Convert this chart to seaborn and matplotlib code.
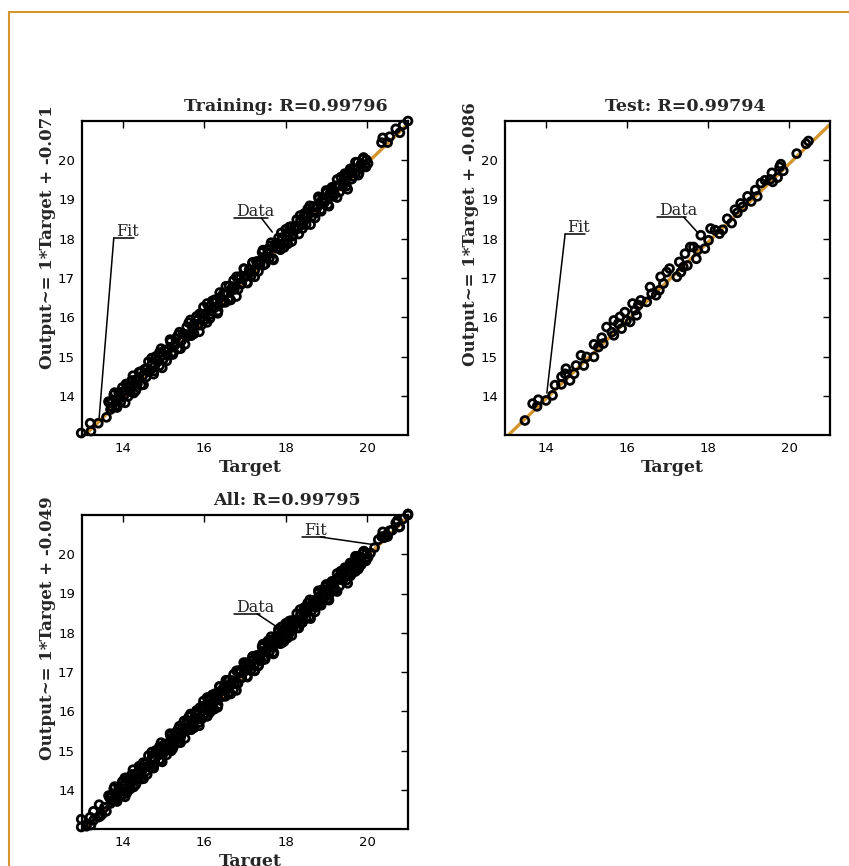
import numpy as np
import pandas as pd
import matplotlib
matplotlib.use("Agg")
import matplotlib.pyplot as plt
from matplotlib.lines import Line2D
import seaborn as sns

# ---------------- data ----------------
train_target = [12.98, 13.20, 13.22, 13.40, 13.60,
    13.65, 13.70, 13.74, 13.78, 13.82, 13.86, 13.90, 13.95, 14.00, 14.04,
    14.08, 14.13, 14.18, 14.22, 14.27, 14.31, 14.36, 14.40, 14.45, 14.49,
    14.54, 14.58, 14.63, 14.67, 14.72, 14.76, 14.81, 14.85, 14.90, 14.94,
    14.99, 15.03, 15.08, 15.12, 15.17, 15.21, 15.26, 15.30, 15.35, 15.39,
    15.44, 15.48, 15.53, 15.57, 15.62, 15.66, 15.71, 15.75, 15.80, 15.84,
    15.89, 15.93, 15.98, 16.02, 16.07, 16.11, 16.16, 16.20, 16.25, 16.29,
    16.34, 16.38, 16.43, 16.47, 16.52, 16.56, 16.61, 16.65, 16.70, 16.74,
    16.79, 16.83, 16.88, 16.92, 16.97, 17.01, 17.06, 17.10, 17.15, 17.19,
    17.24, 17.28, 17.33, 17.37, 17.42, 17.46, 17.51, 17.55, 17.60, 17.64,
    17.69, 17.73, 17.78, 17.82, 17.87, 17.91, 17.96, 18.00, 18.05, 18.09,
    18.14, 18.18, 18.23, 18.27, 18.32, 18.36, 18.41, 18.45, 18.50, 18.54,
    18.59, 18.63, 18.68, 18.72, 18.77, 18.81, 18.86, 18.90, 18.95, 18.99,
    19.04, 19.08, 19.13, 19.17, 19.22, 19.26, 19.31, 19.35, 19.40, 19.44,
    19.49, 19.53, 19.58, 19.62, 19.67, 19.71, 19.76, 19.80, 19.85, 19.89,
    19.94, 19.98, 20.02,
    20.35, 20.38, 20.50, 20.55, 20.70, 20.80, 20.88, 21.00,
    13.67, 13.73, 13.80, 13.86, 13.93, 13.99, 14.06, 14.12, 14.19, 14.25,
    14.32, 14.38, 14.45, 14.51, 14.58, 14.64, 14.71, 14.77, 14.84, 14.90,
    14.97, 15.03, 15.10, 15.16, 15.23, 15.29, 15.36, 15.42, 15.49, 15.55,
    15.62, 15.68, 15.75, 15.81, 15.88, 15.94, 16.01, 16.07, 16.14, 16.20,
    16.27, 16.33, 16.40, 16.46, 16.53, 16.59, 16.66, 16.72, 16.79, 16.85,
    16.92, 16.98, 17.05, 17.11, 17.18, 17.24, 17.31, 17.37, 17.44, 17.50,
    17.57, 17.63, 17.70, 17.76, 17.83, 17.89, 17.96, 18.02, 18.09, 18.15,
    18.22, 18.28, 18.35, 18.41, 18.48, 18.54, 18.61, 18.67, 18.74, 18.80,
    18.87, 18.93, 19.00, 19.06, 19.13, 19.19, 19.26, 19.32, 19.39, 19.45,
    19.52, 19.58, 19.65, 19.71, 19.78, 19.84, 19.91, 19.97]
train_output = [13.05, 13.30, 13.10, 13.30, 13.45,
    13.85, 13.65, 13.86, 14.03, 13.74, 13.92, 14.08, 13.83, 14.10, 14.02,
    14.30, 13.98, 14.23, 14.39, 14.07, 14.40, 14.30, 14.60, 14.27, 14.51,
    14.68, 14.48, 14.87, 14.64, 14.83, 14.55, 15.00, 14.89, 14.76, 15.20,
    14.92, 15.16, 14.89, 15.19, 15.38, 15.10, 15.27, 15.46, 15.19, 15.62,
    15.40, 15.57, 15.31, 15.75, 15.53, 15.93, 15.74, 15.58, 15.92, 15.79,
    16.09, 15.80, 16.26, 16.08, 15.87, 16.26, 16.08, 16.42, 16.24, 16.39,
    16.16, 16.63, 16.37, 16.60, 16.38, 16.61, 16.80, 16.44, 16.78, 16.71,
    17.03, 16.71, 17.04, 16.85, 17.24, 17.03, 16.87, 17.21, 17.05, 17.40,
    17.20, 17.42, 17.17, 17.44, 17.65, 17.33, 17.55, 17.73, 17.51, 17.90,
    17.49, 17.82, 17.76, 18.02, 17.72, 18.03, 17.90, 18.24, 17.87, 18.15,
    18.31, 18.07, 18.25, 18.49, 18.12, 18.46, 18.36, 18.64, 18.36, 18.62,
    18.84, 18.55, 18.82, 18.53, 18.80, 19.02, 18.74, 19.01, 18.92, 19.23,
    18.87, 19.15, 19.31, 19.08, 19.35, 19.05, 19.36, 19.57, 19.34, 19.59,
    19.34, 19.62, 19.78, 19.52, 19.79, 19.67, 19.95, 19.67, 19.91, 20.03,
    19.86, 20.01, 19.92,
    20.45, 20.57, 20.45, 20.60, 20.80, 20.70, 20.90, 21.00,
    13.82, 13.72, 14.08, 13.70, 14.01, 14.21, 13.82, 14.25, 14.10, 14.51,
    14.13, 14.42, 14.62, 14.28, 14.68, 14.61, 14.96, 14.63, 14.90, 15.10,
    14.71, 15.15, 15.03, 15.43, 15.05, 15.31, 15.55, 15.20, 15.58, 15.54,
    15.86, 15.53, 15.82, 16.02, 15.63, 16.08, 15.93, 16.35, 15.97, 16.23,
    16.45, 16.10, 16.51, 16.42, 16.79, 16.46, 16.71, 16.94, 16.53, 16.97,
    16.86, 17.23, 16.89, 17.12, 17.38, 17.03, 17.41, 17.35, 17.71, 17.36,
    17.63, 17.82, 17.46, 17.89, 17.76, 18.15, 17.78, 18.06, 18.30, 17.93,
    18.31, 18.25, 18.59, 18.26, 18.55, 18.76, 18.36, 18.81, 18.66, 19.07,
    18.70, 18.96, 19.18, 18.83, 19.24, 19.15, 19.51, 19.19, 19.44, 19.66,
    19.26, 19.70, 19.59, 19.95, 19.62, 19.86, 20.07, 19.83]

val_target = [12.98, 13.11, 13.28, 13.28, 13.42, 13.44, 13.55, 13.70,
    14.05, 14.10, 15.00, 15.60, 16.37, 17.20, 18.10, 18.90, 19.10, 19.60,
    19.92, 20.08, 20.27, 20.61, 20.74, 20.78, 21.00]
val_output = [13.25, 13.07, 13.45, 13.22, 13.62, 13.32, 13.55, 13.85,
    14.30, 13.92, 15.10, 15.70, 16.63, 17.30, 18.00, 19.10, 19.20, 19.50,
    20.08, 20.03, 20.37, 20.61, 20.86, 20.69, 21.03]

test_target = [13.49, 13.68, 13.79, 13.82, 14.01, 14.17, 14.23, 14.39, 14.39,
    14.48, 14.50, 14.60, 14.70, 14.75, 14.87, 14.94, 15.01, 15.19, 15.19,
    15.30, 15.38, 15.42, 15.50, 15.63, 15.68, 15.68, 15.79, 15.83, 15.87,
    15.95, 15.99, 16.08, 16.14, 16.20, 16.24, 16.28, 16.34, 16.49, 16.57,
    16.61, 16.72, 16.80, 16.83, 16.90, 16.98, 17.05, 17.23, 17.29, 17.33,
    17.39, 17.43, 17.49, 17.56, 17.64, 17.71, 17.74, 17.82, 17.92, 18.01,
    18.06, 18.17, 18.28, 18.36, 18.47, 18.58, 18.66, 18.72, 18.80, 18.85,
    18.97, 19.06, 19.16, 19.21, 19.30, 19.40, 19.53, 19.57, 19.59, 19.71,
    19.76, 19.79, 19.85, 20.18, 20.41, 20.47]
test_output = [13.37, 13.80, 13.73, 13.90, 13.88, 14.01, 14.27, 14.29, 14.48,
    14.56, 14.69, 14.39, 14.56, 14.77, 15.03, 14.77, 14.99, 14.99, 15.31,
    15.24, 15.48, 15.33, 15.75, 15.62, 15.92, 15.54, 15.84, 16.01, 15.71,
    16.13, 15.92, 15.88, 16.35, 16.18, 16.05, 16.31, 16.43, 16.39, 16.77,
    16.60, 16.56, 16.69, 17.03, 16.86, 17.15, 17.24, 17.03, 17.41, 17.15,
    17.28, 17.62, 17.32, 17.79, 17.79, 17.49, 17.71, 18.09, 17.75, 17.96,
    18.26, 18.22, 18.13, 18.23, 18.51, 18.40, 18.74, 18.66, 18.90, 18.81,
    19.08, 18.95, 19.24, 19.08, 19.42, 19.49, 19.51, 19.68, 19.45, 19.56,
    19.83, 19.90, 19.73, 20.17, 20.42, 20.49]

panel_titles = ["Training: R=0.99796", "Test: R=0.99794", "All: R=0.99795"]
fit_slope = [1, 1, 1]
fit_intercept = [-0.071, -0.086, -0.049]
ticks = [14, 15, 16, 17, 18, 19, 20]
xticks = [14, 16, 18, 20]

# ---------------- style ----------------
sns.set_theme(style="white")
plt.rcParams["font.family"] = ["DejaVu Sans"]
ORANGE = "#D4952F"

W, H = 849, 866
fig = plt.figure(figsize=(W / 100, H / 100), dpi=100)
fig.patch.set_facecolor("white")

def rect(l, r, t, b):
    return [l / W, (H - b) / H, (r - l) / W, (b - t) / H]

ax_specs = [rect(82, 408, 121, 435), rect(505, 830, 121, 435), rect(82, 408, 515, 829)]
datasets = [
    (train_target, train_output),
    (test_target, test_output),
    (train_target + val_target + test_target, train_output + val_output + test_output),
]
title_x = [0.625, 0.555, 0.63]
ylabel_y = [0.63, 0.64, 0.64]

# annotations: (text, text_x, underline_y, underline_x_end, leader_start_x, leader_end_x, leader_end_y)
annots = [
    [("Fit", 13.78, 18.02, 14.27, 13.78, 13.42, 13.43),
     ("Data", 16.72, 18.53, 17.57, 17.40, 17.67, 18.17)],
    [("Fit", 14.48, 18.12, 14.97, 14.48, 14.03, 14.07),
     ("Data", 16.74, 18.55, 17.45, 17.40, 17.75, 18.15)],
    [("Fit", 18.40, 20.44, 18.96, 18.85, 20.19, 20.24),
     ("Data", 16.73, 18.48, 17.37, 17.30, 17.78, 18.15)],
]

for i, spec in enumerate(ax_specs):
    ax = fig.add_axes(spec)
    tx, ty = datasets[i]
    df = pd.DataFrame({"Target": tx, "Output": ty})
    fx = np.array([13.0, 21.0])
    fit_df = pd.DataFrame({"x": fx, "y": fit_slope[i] * fx + fit_intercept[i]})
    sns.lineplot(data=fit_df, x="x", y="y", ax=ax, color=ORANGE, lw=2.4, zorder=1)
    sns.scatterplot(data=df, x="Target", y="Output", ax=ax, marker="o", s=32,
                    facecolor="none", edgecolor="black", linewidth=2.0, zorder=3,
                    clip_on=False)
    ax.set_xlim(13, 21)
    ax.set_ylim(13, 21)
    ax.set_xticks(xticks)
    ax.set_yticks(ticks)
    ax.tick_params(direction="in", length=5, width=1, top=True, right=True,
                   labelsize=9.5, pad=5, colors="black")
    for sp in ax.spines.values():
        sp.set_linewidth(1.6)
        sp.set_color("black")
    ax.set_title(panel_titles[i], x=title_x[i], pad=7, fontsize=12.5,
                 fontweight="bold", family="DejaVu Serif")
    ax.set_xlabel("Target", fontsize=12.5, fontweight="bold", family="DejaVu Serif")
    ax.set_ylabel("Output~= %d*Target + %g" % (fit_slope[i], fit_intercept[i]),
                  fontsize=12, fontweight="bold", family="DejaVu Serif")
    ax.xaxis.set_label_coords(0.515, -0.075)
    ax.yaxis.set_label_coords(-0.08, ylabel_y[i])
    for (txt, x0, uy, x1, lx, ex, ey) in annots[i]:
        ax.text(x0 + 0.05, uy + 0.06, txt, fontsize=11.5, family="DejaVu Serif",
                ha="left", va="baseline", zorder=5)
        ax.add_line(Line2D([x0, x1], [uy, uy], color="black", lw=1.1, zorder=5))
        ax.add_line(Line2D([lx, ex], [uy, ey], color="black", lw=1.1, zorder=5))

# page border
fig.add_artist(Line2D([9 / W, 1.0], [(H - 12) / H, (H - 12) / H],
                      transform=fig.transFigure, color=ORANGE, lw=1.5))
fig.add_artist(Line2D([9 / W, 9 / W], [0.0, (H - 12) / H],
                      transform=fig.transFigure, color=ORANGE, lw=1.5))

fig.savefig("out.png", dpi=100, facecolor="white")
